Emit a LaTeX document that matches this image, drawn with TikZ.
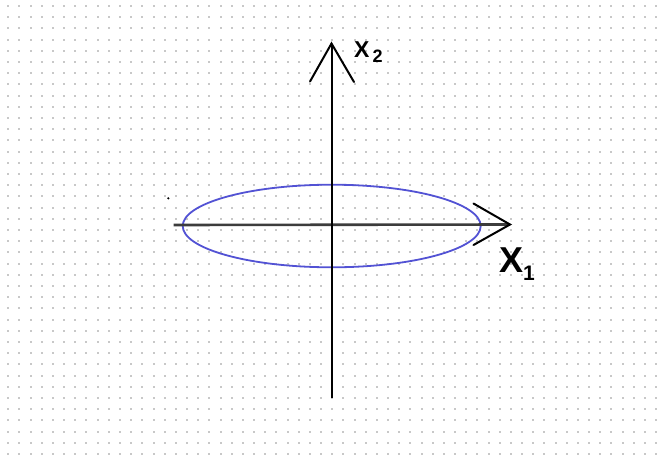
\documentclass[tikz,border=0pt]{standalone}
\usepackage{fontspec}
\setsansfont{Liberation Sans}
\definecolor{gridgray}{RGB}{200,200,200}
\definecolor{ellblue}{RGB}{82,82,212}
\definecolor{axisgray}{RGB}{60,60,60}
\begin{document}
\begin{tikzpicture}[x=1pt,y=-1pt,
  axisline/.style={line width=2pt,line cap=round,line join=miter},
  labeltext/.style={inner sep=0pt,anchor=base west,font=\sffamily\bfseries}]
\useasboundingbox[fill=white] (0,0) rectangle (658,455);
% dotted grid
\foreach \i in {0,...,58}{
  \foreach \j in {0,...,40}{
    \fill[gridgray] ({8.3+11.17*\i-1},{6+11.2*\j-1}) rectangle +(2,2);
  }
}
% coordinates
\coordinate (vbot) at (331.5,398);
\coordinate (vtop) at (331.5,43.5);
\coordinate (vl) at (310,81.5);
\coordinate (vr) at (354,82);
\coordinate (hleft) at (173.5,225);
\coordinate (hright) at (510,224.5);
\coordinate (hu) at (473.5,203.5);
\coordinate (hd) at (473.5,245);
\coordinate (ec) at (331.7,226);
% ellipse
\draw[ellblue,line width=1.8pt] (ec) ellipse [x radius=149,y radius=41.3];
% horizontal axis
\draw[axisline,axisgray,line width=2.6pt,line cap=butt] (hleft) -- (hright);
\draw[axisline,black,line width=2pt] (hu) -- (hright) -- (hd);
% vertical axis
\draw[axisline,black,line cap=butt] (vbot) -- (vtop);
\draw[axisline,black] (vl) -- (vtop) -- (vr);
% stray dot
\fill[black] (168.3,198.3) circle (1.2);
% labels
\node[labeltext] (x2) at (354,57) {\fontsize{23}{23}\selectfont X\hspace{3pt}\raisebox{-5pt}{\fontsize{18}{18}\selectfont 2}};
\node[labeltext] (x1) at (499,272) {\fontsize{36}{36}\selectfont X\hspace{0pt}\raisebox{-8pt}{\fontsize{21}{21}\selectfont 1}};
\end{tikzpicture}
\end{document}
